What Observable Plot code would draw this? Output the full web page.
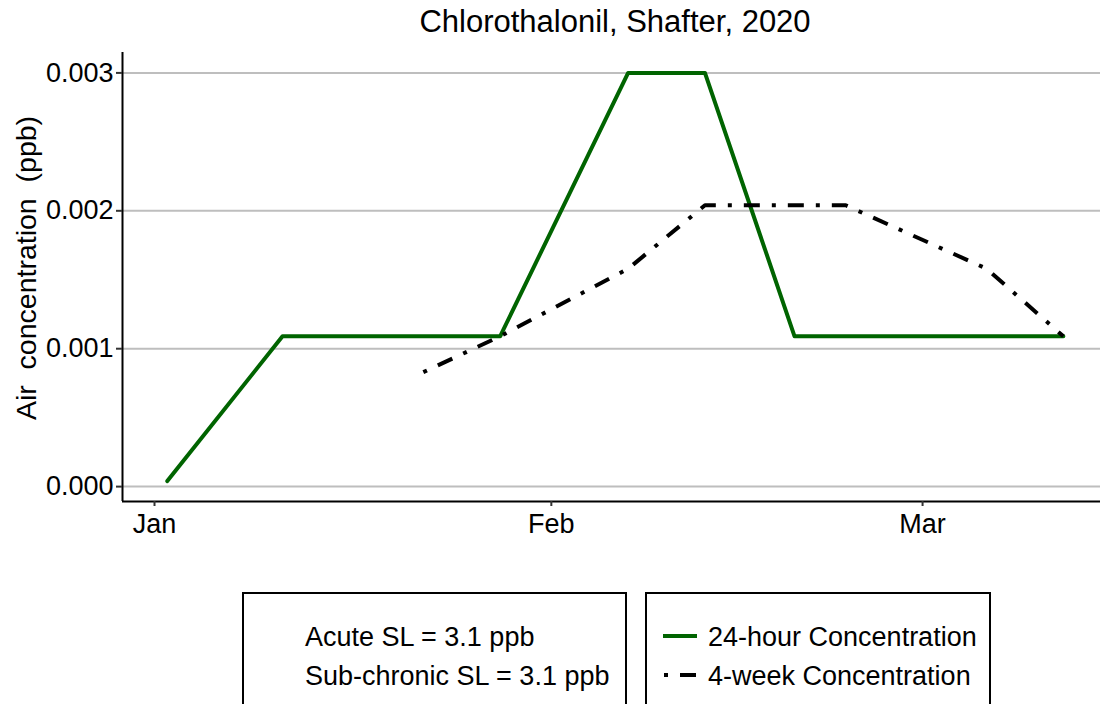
<!DOCTYPE html>
<html>
<head>
<meta charset="utf-8">
<script src="https://cdn.jsdelivr.net/npm/d3@7"></script>
<script src="https://cdn.jsdelivr.net/npm/@observablehq/plot@0.6"></script>
<style>
  html, body { margin: 0; padding: 0; background: #fff; overflow: hidden; }
  body { font-family: "Liberation Sans", Arial, sans-serif; color: #000; }
  #wrap { position: relative; width: 1100px; height: 704px; }
  #title { position: absolute; top: 0; left: 215px; width: 800px; text-align: center; font-size: 31px; line-height: 44px; }
  #ylab { position: absolute; left: 26px; top: 268px; transform: translate(-50%, -50%) rotate(-90deg); font-size: 28.5px; white-space: pre; }
  #chart { position: absolute; top: 0; left: 0; }
  .box { position: absolute; top: 592px; height: 140px; border: 2px solid #000; box-sizing: border-box; }
  .row { position: absolute; font-size: 27px; line-height: 30px; white-space: nowrap; }
  .sample { position: absolute; }
</style>
</head>
<body>
<div id="wrap">
  <div id="chart"></div>
  <div id="title">Chlorothalonil, Shafter, 2020</div>
  <div id="ylab">Air  concentration  (ppb)</div>
  <div class="box" style="left:242px;width:385px;">
    <div class="row" style="left:61px;top:28px;">Acute SL = 3.1 ppb</div>
    <div class="row" style="left:61px;top:67px;">Sub-chronic SL = 3.1 ppb</div>
  </div>
  <div class="box" style="left:645px;width:346px;">
    <svg class="sample" style="left:14px;top:32px;" width="40" height="20"><line x1="2" y1="10" x2="36" y2="10" stroke="#006400" stroke-width="4"/></svg>
    <div class="row" style="left:61px;top:28px;">24-hour Concentration</div>
    <svg class="sample" style="left:14px;top:71px;" width="40" height="20"><line x1="3" y1="10" x2="37" y2="10" stroke="#000" stroke-width="4" stroke-dasharray="4,12,16,12"/></svg>
    <div class="row" style="left:61px;top:67px;">4-week Concentration</div>
  </div>
</div>
<script>
// Data
const greenDates = ["2020-01-02","2020-01-11","2020-01-28","2020-02-07","2020-02-13","2020-02-20","2020-03-12"];
const greenValues = [0.00004, 0.00109, 0.00109, 0.003, 0.003, 0.00109, 0.00109];
const blackDates = ["2020-01-22","2020-01-28","2020-02-07","2020-02-13","2020-02-24","2020-03-06","2020-03-12"];
const blackValues = [0.00083, 0.00109, 0.00158, 0.00204, 0.00204, 0.00158, 0.00109];
const xTicks = ["2020-01-01","2020-02-01","2020-03-01"];
const yTicks = [0, 0.001, 0.002, 0.003];

const green = greenDates.map((d, i) => ({date: new Date(d), value: greenValues[i]}));
const black = blackDates.map((d, i) => ({date: new Date(d), value: blackValues[i]}));

const xDomain = [new Date(Date.UTC(2019, 11, 29, 12)), new Date(Date.UTC(2020, 2, 14, 21, 36))];
const yDomain = [-0.000108, 0.003148];

const chart = Plot.plot({
  width: 1100,
  height: 550,
  marginLeft: 122,
  marginRight: 0,
  marginTop: 52,
  marginBottom: 49,
  style: {fontFamily: "'Liberation Sans', Arial, sans-serif", fontSize: "27px", color: "#000", background: "transparent", overflow: "visible"},
  x: {type: "utc", domain: xDomain, axis: null},
  y: {domain: yDomain, axis: null},
  marks: [
    Plot.gridY(yTicks, {stroke: "#bebebe", strokeOpacity: 1, strokeWidth: 2}),
    Plot.ruleY([yDomain[0]], {stroke: "#000", strokeWidth: 2}),
    Plot.ruleX([xDomain[0]], {stroke: "#000", strokeWidth: 2}),
    Plot.axisX(xTicks.map(d => new Date(d)), {tickFormat: d3.utcFormat("%b"), tickSize: 5, tickPadding: 7, stroke: "#333", strokeWidth: 2, fontSize: 27, fill: "#000", label: null}),
    Plot.axisY(yTicks, {tickFormat: d3.format(".3f"), tickSize: 6, tickPadding: 3, stroke: "#333", strokeWidth: 2, fontSize: 27, fill: "#000", label: null}),
    Plot.line(green, {x: "date", y: "value", stroke: "#006400", strokeWidth: 4}),
    Plot.line(black, {x: "date", y: "value", stroke: "#000", strokeWidth: 4, strokeDasharray: "4,12,16,12", strokeLinecap: "butt"})
  ]
});
document.getElementById("chart").appendChild(chart);
</script>
</body>
</html>
